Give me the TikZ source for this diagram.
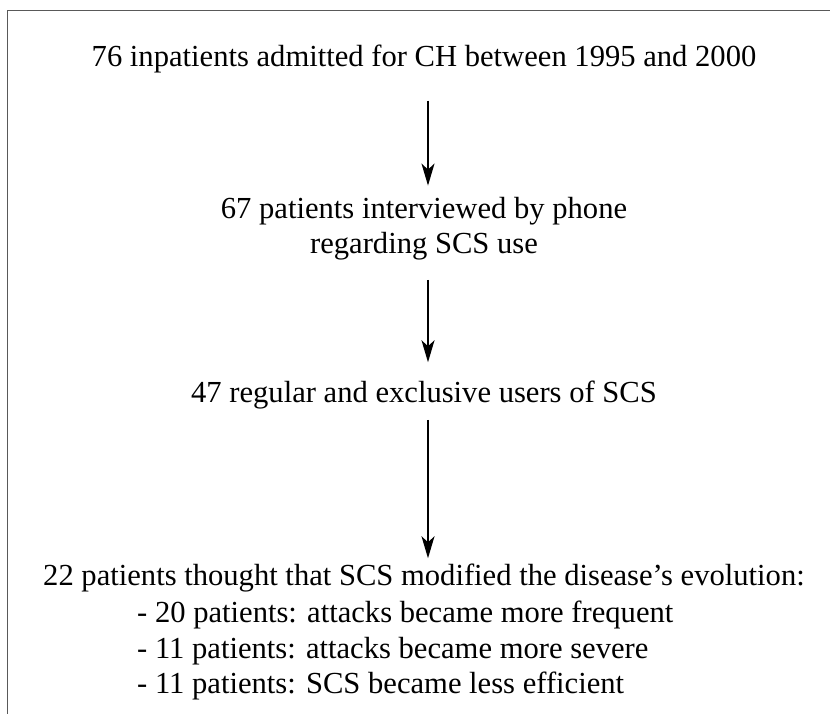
\documentclass[tikz,border=0pt]{standalone}
\usepackage{fontspec}
\setmainfont{Liberation Serif}
\usetikzlibrary{arrows.meta}
\begin{document}
\begin{tikzpicture}[x=1pt,y=-1pt]
    \tikzset{StepText/.style = {inner sep=0pt, anchor=base, font=\fontsize{30.6}{36}\selectfont}}
    \tikzset{ItemText/.style = {StepText, anchor=base west}}
    \tikzset{Flow/.style = {-{Stealth[length=22pt,width=13pt,inset=6pt]}, line width=1.8pt}}
    \useasboundingbox (0,0) rectangle (830,713);
    \draw[black!65, line width=1pt] (7,10) rectangle (850,740);
    \node[StepText] (admitted) at (424,66) {76 inpatients admitted for CH between 1995 and 2000};
    \node[StepText] (interviewed) at (424,218) {67 patients interviewed by phone};
    \node[StepText] (regarding) at (424,253) {regarding SCS use};
    \node[StepText] (users) at (424,402) {47 regular and exclusive users of SCS};
    \node[StepText] (modified) at (424,585) {22 patients thought that SCS modified the disease's evolution:};
    \node[ItemText] (frequent) at (137,622) {- 20 patients: attacks became more frequent};
    \node[ItemText] (severe) at (137,658) {- 11 patients: attacks became more severe};
    \node[ItemText] (efficient) at (137,693) {- 11 patients: SCS became less efficient};
    \draw[Flow, shorten <=28pt, shorten >=11pt] ([xshift=4pt]admitted.south) -- ([xshift=4pt]interviewed.north);
    \draw[Flow, shorten <=20pt, shorten >=18pt] ([xshift=4pt]regarding.south) -- ([xshift=4pt]users.north);
    \draw[Flow, shorten <=11pt, shorten >=5pt] ([xshift=4pt]users.south) -- ([xshift=4pt]modified.north);
\end{tikzpicture}
\end{document}
